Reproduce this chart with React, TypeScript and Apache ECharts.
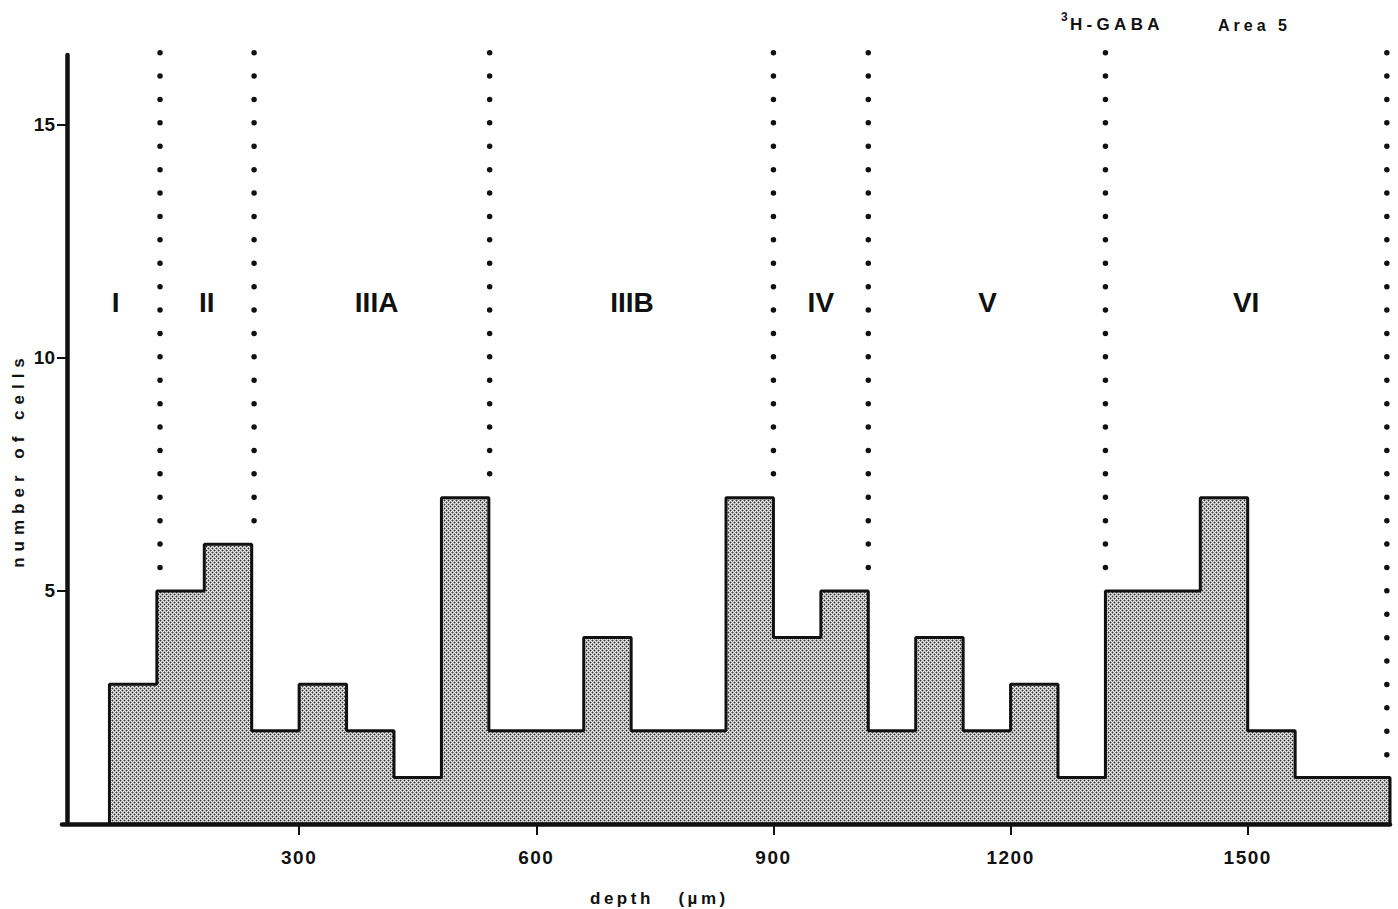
import React, { useEffect, useRef } from "react";
import * as echarts from "echarts";

// Histogram of labelled cells across cortical depth (60 µm bins starting at 60 µm)
const binStart = 60;
const binWidth = 60;
const cellCounts = [3, 5, 6, 2, 3, 2, 1, 7, 2, 2, 4, 2, 2, 7, 4, 5, 2, 4, 2, 3, 1, 5, 5, 7, 2, 1, 1];

// Laminar boundaries (µm) and layer names
const layerBounds = [124, 243, 541, 900, 1020, 1320, 1676];
const layerNames = ["I", "II", "IIIA", "IIIB", "IV", "V", "VI"];
const layerLabelDepths = [68, 183, 398, 721, 960, 1171, 1498];
const layerLabelLevel = 11.2;

// Axis ticks
const xTicks = [300, 600, 900, 1200, 1500];
const yTicks = [5, 10, 15];
const depthMax = 1680;
const countMax = 16.5;
const boundTop = 16.55;

const FONT = "'Liberation Sans', Arial, Helvetica, sans-serif";
const INK = "#111";

// letter spacing applied to the rendered SVG texts
const spacedTexts: Record<string, string> = {
  "number of cells": "6px",
  "depth   (µm)": "3.5px",
  "H-GABA": "4.3px",
  "Area 5": "4px",
  "300": "1.5px",
  "600": "1.5px",
  "900": "1.5px",
  "1200": "1.5px",
  "1500": "1.5px",
};

function countAt(d: number): number {
  const i = Math.floor((d - binStart) / binWidth);
  return i >= 0 && i < cellCounts.length ? cellCounts[i] : 0;
}

function stipplePattern(): HTMLCanvasElement {
  const c = document.createElement("canvas");
  c.width = 4;
  c.height = 4;
  const g = c.getContext("2d")!;
  g.fillStyle = "#e8e8e8";
  g.fillRect(0, 0, 4, 4);
  const dots = [
    [0, 0],
    [2, 2],
  ];
  g.fillStyle = "#9c9c9c";
  dots.forEach(([x, y]) => {
    [
      [1, 0],
      [-1, 0],
      [0, 1],
      [0, -1],
    ].forEach(([dx, dy]) => g.fillRect((x + dx + 4) % 4, (y + dy + 4) % 4, 1, 1));
  });
  g.fillStyle = "#2e2e2e";
  dots.forEach(([x, y]) => g.fillRect(x, y, 1, 1));
  return c;
}

export default function App() {
  const ref = useRef<HTMLDivElement>(null);

  useEffect(() => {
    if (!ref.current) return;
    const chart = echarts.init(ref.current, null, { renderer: "svg" });

    const histPoints: number[][] = [[binStart, 0]];
    cellCounts.forEach((c, i) => histPoints.push([binStart + i * binWidth, c]));
    const binEnd = binStart + cellCounts.length * binWidth;
    histPoints.push([binEnd, cellCounts[cellCounts.length - 1]]);
    histPoints.push([binEnd, 0]);

    const boundSeries = layerBounds.map((d) => ({
      type: "line",
      clip: false,
      silent: true,
      symbol: "none",
      z: 1,
      data: [
        [d, boundTop],
        [d, Math.max(countAt(d - 8), countAt(d + 8)) + 0.3],
      ],
      lineStyle: { color: INK, width: 5.5, type: [0, 23.4], cap: "round" },
    }));

    chart.setOption({
      animation: false,
      grid: { left: 62, right: 8, top: 55, bottom: 85 },
      xAxis: {
        type: "value",
        min: 0,
        max: depthMax,
        z: 10,
        splitLine: { show: false },
        axisLine: { show: true, lineStyle: { color: INK, width: 4.5 } },
        axisTick: { show: true, customValues: xTicks, length: 11, lineStyle: { color: INK, width: 2 } },
        axisLabel: {
          customValues: xTicks,
          formatter: (v: number) => String(v),
          margin: 24,
          fontSize: 19,
          fontWeight: "bold",
          fontFamily: FONT,
          color: INK,
        },
      },
      yAxis: {
        type: "value",
        min: 0,
        max: countMax,
        offset: -5,
        z: 10,
        splitLine: { show: false },
        axisLine: { show: true, lineStyle: { color: INK, width: 4.5 } },
        axisTick: { show: true, customValues: yTicks, length: 10, lineStyle: { color: INK, width: 2 } },
        axisLabel: {
          customValues: yTicks,
          formatter: (v: number) => String(v),
          margin: 12,
          fontSize: 19,
          fontWeight: "bold",
          fontFamily: FONT,
          color: INK,
        },
      },
      series: [
        ...boundSeries,
        {
          type: "line",
          step: "end",
          symbol: "none",
          silent: true,
          z: 3,
          data: histPoints,
          lineStyle: { color: INK, width: 3 },
          areaStyle: { color: { image: stipplePattern(), repeat: "repeat" }, opacity: 1 },
        },
        {
          type: "scatter",
          symbolSize: 1,
          silent: true,
          z: 4,
          itemStyle: { color: "rgba(255,255,255,0)" },
          data: layerNames.map((n, i) => ({ name: n, value: [layerLabelDepths[i], layerLabelLevel] })),
          label: {
            show: true,
            position: "inside",
            formatter: "{b}",
            fontSize: 28,
            fontWeight: "bold",
            fontFamily: FONT,
            color: INK,
            opacity: 1,
            textBorderWidth: 0,
          },
        },
      ],
      graphic: [
        {
          type: "text",
          x: 1061,
          y: 17,
          style: { text: "3", font: `bold 12px ${FONT}`, fill: INK, verticalAlign: "middle" },
        },
        {
          type: "text",
          x: 1070,
          y: 24,
          style: { text: "H-GABA", font: `bold 17px ${FONT}`, fill: INK, verticalAlign: "middle" },
        },
        {
          type: "text",
          x: 1218,
          y: 25,
          style: { text: "Area 5", font: `bold 16px ${FONT}`, fill: INK, verticalAlign: "middle" },
        },
        {
          type: "text",
          x: 18,
          y: 460,
          rotation: Math.PI / 2,
          style: {
            text: "number of cells",
            font: `bold 17px ${FONT}`,
            fill: INK,
            align: "center",
            verticalAlign: "middle",
          },
        },
        {
          type: "text",
          x: 590,
          y: 898,
          style: { text: "depth   (µm)", font: `bold 17px ${FONT}`, fill: INK, verticalAlign: "middle" },
        },
      ],
    });

    const spaceTexts = () => {
      ref.current?.querySelectorAll("text").forEach((t) => {
        const s = spacedTexts[(t.textContent || "").trim()];
        if (s) t.style.letterSpacing = s;
      });
    };
    spaceTexts();
    chart.on("finished", spaceTexts);

    return () => chart.dispose();
  }, []);

  return (
    <div
      ref={ref}
      style={{ position: "fixed", left: 0, top: 0, width: 1398, height: 909, background: "#fff" }}
    />
  );
}
